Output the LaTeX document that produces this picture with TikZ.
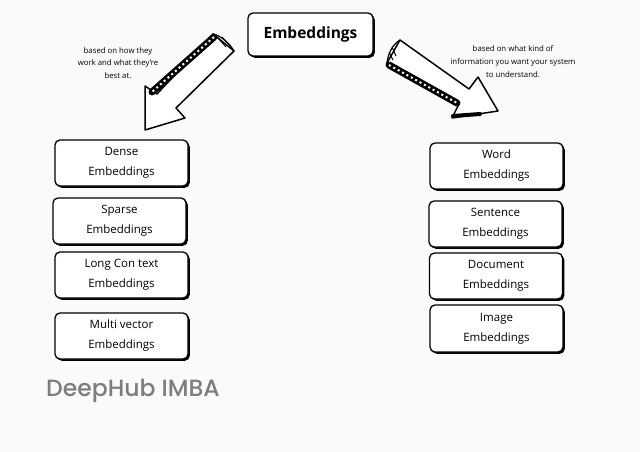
\documentclass[tikz,border=0pt]{standalone}
\usepackage{fontspec}
\setmainfont{Open Sans}
\newfontfamily\logofont{Poppins}[UprightFont={* Medium}]
\usetikzlibrary{shadows}
\definecolor{bg}{RGB}{250,250,250}
\definecolor{logogray}{RGB}{125,125,125}
\begin{document}
\begin{tikzpicture}[x=1pt,y=-1pt,
  box/.style={draw=black, line width=1.3pt, rounded corners=5pt, fill=white,
    minimum width=133pt, minimum height=46pt, align=center,
    font=\fontsize{11.5}{20}\selectfont,
    drop shadow={shadow xshift=1.8pt, shadow yshift=-1.8pt, fill=black, opacity=1}},
  note/.style={align=center, font=\fontsize{7.8}{12.8}\selectfont},
  arrowbody/.style={draw=black, line width=1.5pt, fill=white, line join=round},
  band/.style={draw=black, line width=7pt, line cap=round},
  bandmark/.style={draw=white, line width=2pt, dash pattern=on 2pt off 3pt}]
\useasboundingbox (0,0) rectangle (640,452);
\fill[bg] (0,0) rectangle (640,452);

% top node
\node[box, minimum width=125pt, minimum height=43pt, font=\fontsize{15.5}{18}\selectfont\bfseries] (emb) at (310.5,34.5) {Embeddings};

% left column
\node[box] (dense) at (121.5,163) {Dense\\Embeddings};
\node[box] (sparse) at (119.5,221) {Sparse\\Embeddings};
\node[box] (long) at (121.5,275) {Long Con text\\Embeddings};
\node[box] (multi) at (121.5,336) {Multi vector\\Embeddings};

% right column
\node[box] (word) at (496.5,166) {Word\\Embeddings};
\node[box] (sent) at (495.5,224) {Sentence\\Embeddings};
\node[box] (doc) at (496,276) {Document\\Embeddings};
\node[box, minimum height=47pt] (img) at (496.5,328.5) {Image\\Embeddings};

% notes
\node[note] (nl) at (118,63) {based on how they\\work and what they're\\best at.};
\node[note] (nr) at (513,61.5) {based on what kind of\\information you want your system\\to understand.};

% left arrow
\draw[arrowbody] (213,34) -- (234,51) -- (176,108) -- (185,118) -- (145,130) -- (145,86) -- (157,94) -- cycle;
\draw[band] (214,37) -- (152,92);
\draw[bandmark] (214,37) -- (152,92);
\draw[black, line width=1.2pt] (213,34) .. controls (222,36) and (230,44) .. (234,51);
\draw[black, line width=1pt] (218,38) -- (226,47) (222,37) -- (230,46);

% right arrow
\draw[arrowbody] (400,40) -- (387,63) -- (459,104) -- (452,118) -- (498,111) -- (478,77) -- (469,89) -- cycle;
\draw[band] (389,65) -- (457,103);
\draw[bandmark] (389,65) -- (457,103);
\draw[band, line width=4pt] (453,116) -- (480,114);
\draw[black, line width=1.2pt] (400,40) .. controls (392,45) and (388,54) .. (387,63);
\draw[black, line width=1pt] (392,47) -- (396,56) (389,52) -- (393,60);

% logo
\node[anchor=west, text=logogray, font=\logofont\fontsize{23.5}{28}\selectfont, inner sep=0pt] (logo) at (46,391) {DeepHub IMBA};
\end{tikzpicture}
\end{document}
